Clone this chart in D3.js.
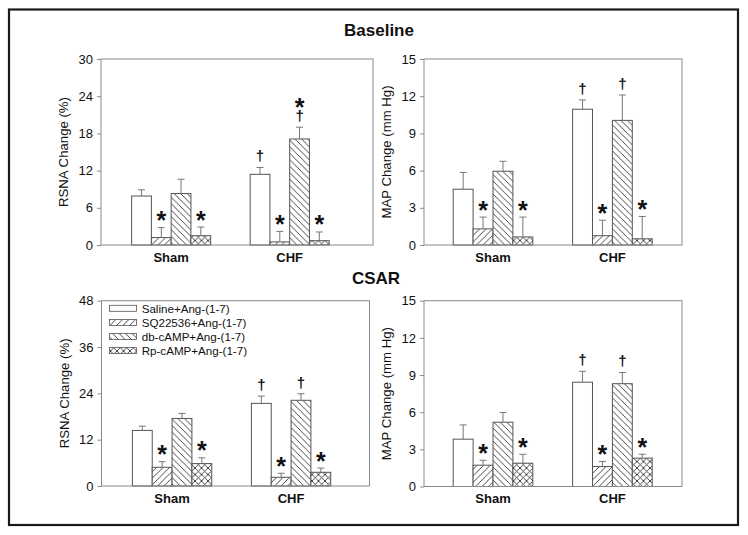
<!DOCTYPE html>
<html><head><meta charset="utf-8">
<script src="https://cdn.jsdelivr.net/npm/d3@7"></script>
<style>body{margin:0;background:#fff} svg text{font-family:"Liberation Sans",Arial,sans-serif}</style>
</head><body><svg id="c" width="748" height="535"></svg>
<script>
// ---------- data ----------
const categories = ["Sham", "CHF"];
const seriesNames = ["Saline+Ang-(1-7)", "SQ22536+Ang-(1-7)", "db-cAMP+Ang-(1-7)", "Rp-cAMP+Ang-(1-7)"];
const panelTitles = ["Baseline", "CSAR"];
const yLabels = ["RSNA Change (%)", "MAP Change (mm Hg)"];

const baselineRsnaMean = [[7.9, 1.2, 8.3, 1.5], [11.4, 0.5, 17.1, 0.7]];
const baselineRsnaSem  = [[1.0, 1.6, 2.3, 1.4], [1.1, 1.7, 1.9, 1.4]];
const baselineMapMean  = [[4.5, 1.3, 5.95, 0.65], [10.95, 0.75, 10.05, 0.5]];
const baselineMapSem   = [[1.35, 0.95, 0.8, 1.6], [0.75, 1.25, 2.05, 1.8]];
const csarRsnaMean     = [[14.4, 4.85, 17.5, 5.8], [21.4, 2.25, 22.2, 3.55]];
const csarRsnaSem      = [[1.1, 1.45, 1.3, 1.5], [1.9, 1.05, 1.7, 1.1]];
const csarMapMean      = [[3.82, 1.72, 5.19, 1.88], [8.42, 1.61, 8.3, 2.29]];
const csarMapSem       = [[1.15, 0.4, 0.78, 0.72], [0.88, 0.41, 0.9, 0.31]];

const rsnaTicksBaseline = [0, 6, 12, 18, 24, 30];
const rsnaTicksCsar = [0, 12, 24, 36, 48];
const mapTicks = [0, 3, 6, 9, 12, 15];

// significance marks (bottom to top)
const baselineRsnaMarks = [[[], ["*"], [], ["*"]], [["†"], ["*"], ["†", "*"], ["*"]]];
const standardMarks     = [[[], ["*"], [], ["*"]], [["†"], ["*"], ["†"], ["*"]]];

// ---------- layout ----------
const svg = d3.select("#c");
svg.append("rect").attr("x", 9).attr("y", 9.5).attr("width", 729).attr("height", 515.5)
  .attr("fill", "none").attr("stroke", "#1a1a1a").attr("stroke-width", 2.2);

const defs = svg.append("defs");
function pat(id, d, s) {
  const p = defs.append("pattern").attr("id", id).attr("patternUnits", "userSpaceOnUse")
    .attr("width", s).attr("height", s);
  p.append("rect").attr("width", s).attr("height", s).attr("fill", "#fff");
  p.append("path").attr("d", d).attr("stroke", "#333").attr("stroke-width", 0.9).attr("fill", "none");
}
const S = 6.5;
pat("fwd", `M0,${S} L${S},0 M${-S/2},${S/2} L${S/2},${-S/2} M${S/2},${S*1.5} L${S*1.5},${S/2}`, S);
pat("bwd", `M0,0 L${S},${S} M${-S/2},${S/2} L${S/2},${S*1.5} M${S/2},${-S/2} L${S*1.5},${S/2}`, S);
pat("crs", `M0,${S} L${S},0 M${-S/2},${S/2} L${S/2},${-S/2} M${S/2},${S*1.5} L${S*1.5},${S/2} M0,0 L${S},${S} M${-S/2},${S/2} L${S/2},${S*1.5} M${S/2},${-S/2} L${S*1.5},${S/2}`, S);
const fills = ["#fff", "url(#fwd)", "url(#bwd)", "url(#crs)"];

const panels = [
  {l: 101, r: 373, t: 59, b: 245, xd: [0.408, 2.703], ymax: 30, ticks: rsnaTicksBaseline, mean: baselineRsnaMean, sem: baselineRsnaSem, marks: baselineRsnaMarks, ylab: yLabels[0]},
  {l: 424, r: 682, t: 59, b: 245, xd: [0.422, 2.583], ymax: 15, ticks: mapTicks, mean: baselineMapMean, sem: baselineMapSem, marks: standardMarks, ylab: yLabels[1]},
  {l: 101.5, r: 369.5, t: 300.7, b: 486, xd: [0.407, 2.659], ymax: 48, ticks: rsnaTicksCsar, mean: csarRsnaMean, sem: csarRsnaSem, marks: standardMarks, ylab: yLabels[0], legend: true},
  {l: 424, r: 682, t: 300.7, b: 486.5, xd: [0.422, 2.583], ymax: 15, ticks: mapTicks, mean: csarMapMean, sem: csarMapSem, marks: standardMarks, ylab: yLabels[1]}
];

const frameCol = "#8a8a8a", barCol = "#555", textCol = "#111";
const bw = 0.1667;
function ci2x(ci) { return ci + 1; }

panels.forEach(p => {
  const g = svg.append("g");
  const x = d3.scaleLinear().domain(p.xd).range([p.l, p.r]);
  const y = d3.scaleLinear().domain([0, p.ymax]).range([p.b, p.t]);

  const ax = g.append("g").attr("transform", `translate(${p.l},0)`)
    .call(d3.axisLeft(y).tickValues(p.ticks).tickSize(4).tickPadding(4));
  ax.select(".domain").remove();
  ax.selectAll("line").attr("stroke", frameCol);
  ax.selectAll("text").attr("font-size", 13).attr("fill", textCol)
    .style("font-family", '"Liberation Sans",Arial,sans-serif');

  g.append("text").attr("transform", `translate(${p.l - 33},${(p.t + p.b) / 2}) rotate(-90)`)
    .attr("text-anchor", "middle").attr("font-size", 13.2).attr("fill", textCol).text(p.ylab);

  const rows = [];
  categories.forEach((c, ci) => seriesNames.forEach((s, si) => {
    rows.push({ci, si, v: p.mean[ci][si], e: p.sem[ci][si], marks: p.marks[ci][si]});
  }));

  g.selectAll("rect.bar").data(rows).join("rect").attr("class", "bar")
    .attr("x", d => x(ci2x(d.ci) + (d.si - 2) * bw))
    .attr("width", d => x(ci2x(d.ci) + (d.si - 1) * bw) - x(ci2x(d.ci) + (d.si - 2) * bw))
    .attr("y", d => y(d.v)).attr("height", d => y(0) - y(d.v))
    .attr("fill", d => fills[d.si]).attr("stroke", barCol).attr("stroke-width", 1);

  const cx = d => x(ci2x(d.ci) + (d.si - 1.5) * bw);
  g.selectAll("line.err").data(rows).join("line").attr("class", "err")
    .attr("x1", cx).attr("x2", cx).attr("y1", d => y(d.v)).attr("y2", d => y(d.v + d.e))
    .attr("stroke", "#777").attr("stroke-width", 1);
  g.selectAll("line.cap").data(rows).join("line").attr("class", "cap")
    .attr("x1", d => cx(d) - 3.5).attr("x2", d => cx(d) + 3.5)
    .attr("y1", d => y(d.v + d.e)).attr("y2", d => y(d.v + d.e))
    .attr("stroke", "#777").attr("stroke-width", 1);

  rows.filter(d => d.marks.length).forEach(d => {
    const top = y(d.v + d.e);
    const t = g.append("text").attr("text-anchor", "middle").attr("font-weight", "bold").attr("fill", textCol);
    // stack from top to bottom within a single text element
    const seq = d.marks.slice().reverse();
    // compute baseline positions (bottom mark first)
    const ys = [];
    let off = 0;
    d.marks.forEach(m => {
      if (m === "*") ys.push(top - 13 - off + 14.5); else ys.push(top - 11 - off + 4.8);
      off += 13;
    });
    ys.reverse();
    seq.forEach((m, k) => {
      t.append("tspan").attr("x", cx(d)).attr("y", ys[k])
        .attr("font-size", m === "*" ? 25 : 15).text(m);
    });
  });

  // frame
  g.append("rect").attr("x", p.l).attr("y", p.t).attr("width", p.r - p.l).attr("height", p.b - p.t)
    .attr("fill", "none").attr("stroke", frameCol).attr("stroke-width", 1);

  g.selectAll("text.cat").data(categories).join("text").attr("class", "cat")
    .attr("x", (c, i) => x(ci2x(i))).attr("y", p.b + 16.5).attr("text-anchor", "middle")
    .attr("font-size", 13).attr("font-weight", "bold").attr("fill", textCol).text(c => c);

  if (p.legend) {
    const lg = g.append("g");
    seriesNames.forEach((s, i) => {
      const cy = 308.3 + i * 14.1;
      lg.append("rect").attr("x", 109.5).attr("y", cy - 3).attr("width", 27).attr("height", 6)
        .attr("fill", fills[i]).attr("stroke", barCol).attr("stroke-width", 0.8);
      lg.append("text").attr("x", 141.7).attr("y", cy + 4.2).attr("font-size", 11.6)
        .attr("fill", textCol).text(s);
    });
  }
});

svg.append("text").attr("x", 379).attr("y", 35.5).attr("text-anchor", "middle")
  .attr("font-size", 17).attr("font-weight", "bold").attr("fill", textCol).text(panelTitles[0]);
svg.append("text").attr("x", 376).attr("y", 283.5).attr("text-anchor", "middle")
  .attr("font-size", 17).attr("font-weight", "bold").attr("fill", textCol).text(panelTitles[1]);
</script></body></html>
